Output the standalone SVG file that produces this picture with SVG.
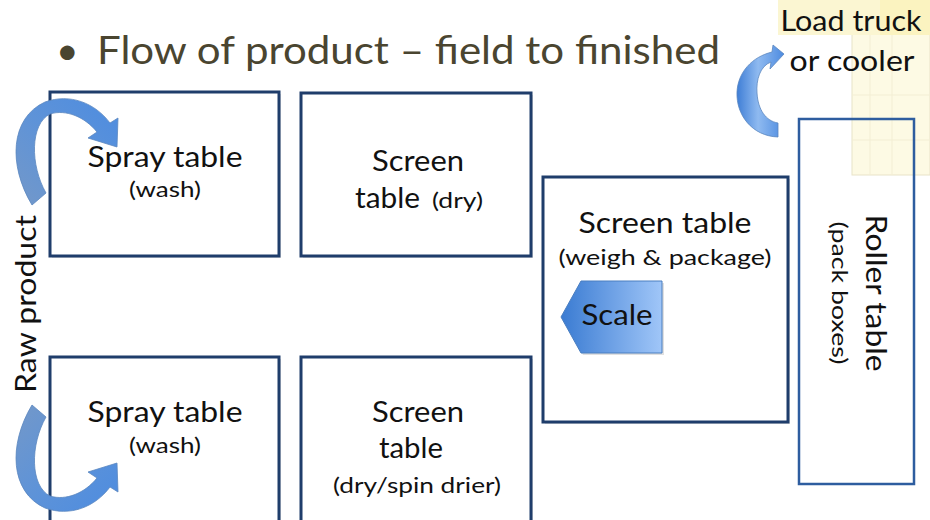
<svg xmlns="http://www.w3.org/2000/svg" width="930" height="520" viewBox="0 0 930 520">
<defs>
<style>
.box{fill:#ffffff;stroke:#1f3d6b;stroke-width:3}
.shadow{fill:#000;opacity:0.12}
.t{font-family:Lato,"Open Sans","Liberation Sans",sans-serif;fill:#111111}
.big{font-size:28px}
.small{font-size:21px}
.title{font-family:Lato,"Open Sans","Liberation Sans",sans-serif;font-weight:400;font-size:39px;fill:#4a4530}
.arrow{stroke:#5b86bf;stroke-width:0.8}
</style>
<linearGradient id="gArrow" x1="0" y1="1" x2="1" y2="0">
<stop offset="0" stop-color="#7398c9"/>
<stop offset="0.5" stop-color="#5e93d8"/>
<stop offset="1" stop-color="#4d8ce0"/>
</linearGradient>
<linearGradient id="gRight" x1="0" y1="0" x2="1" y2="0">
<stop offset="0" stop-color="#3f7ed6"/>
<stop offset="0.45" stop-color="#8fbaf0"/>
<stop offset="1" stop-color="#4d8be0"/>
</linearGradient>
<linearGradient id="gScale" x1="0" y1="0" x2="1" y2="0">
<stop offset="0" stop-color="#3a7bd2"/>
<stop offset="1" stop-color="#a0c6f8"/>
</linearGradient>
</defs>
<rect width="930" height="520" fill="#ffffff"/>
<g id="background-image">
<rect x="852" y="0" width="78" height="175" fill="#fdfae4" stroke="#e8e3c8" stroke-width="1"/>
<rect x="778" y="0" width="152" height="35" fill="#fbf6d2"/>
<rect x="880" y="0" width="50" height="35" fill="#fbf1b4" opacity="0.6"/>
<g stroke="#f3eed4" stroke-width="1" fill="none">
<line x1="870" y1="35" x2="870" y2="175"/>
<line x1="892" y1="35" x2="892" y2="175"/>
<line x1="852" y1="95" x2="930" y2="95"/>
<line x1="852" y1="140" x2="930" y2="140"/>
</g>
</g>
<text class="title" x="56" y="64">•</text>
<text class="title" x="97" y="64" textLength="623" lengthAdjust="spacingAndGlyphs">Flow of product – field to finished</text>
<g id="load-truck">
<text class="t big" x="851" y="31" text-anchor="middle" textLength="141" lengthAdjust="spacingAndGlyphs">Load truck</text>
<text class="t big" x="852" y="71" text-anchor="middle" textLength="125" lengthAdjust="spacingAndGlyphs">or cooler</text>
</g>
<g id="spray-table-1">
<rect class="shadow" x="52" y="94" width="229" height="164"/>
<rect class="box" x="50" y="92" width="229" height="164"/>
<text class="t big" x="165" y="167" text-anchor="middle" textLength="155" lengthAdjust="spacingAndGlyphs">Spray table</text>
<text class="t small" x="165" y="197" text-anchor="middle" textLength="72" lengthAdjust="spacingAndGlyphs">(wash)</text>
</g>
<g id="screen-table-dry">
<rect class="shadow" x="303" y="95" width="230" height="163"/>
<rect class="box" x="301" y="93" width="230" height="163"/>
<text class="t big" x="418" y="171" text-anchor="middle" textLength="92" lengthAdjust="spacingAndGlyphs">Screen</text>
<text class="t big" x="355" y="208" textLength="65" lengthAdjust="spacingAndGlyphs">table</text>
<text class="t small" x="432" y="208" textLength="51" lengthAdjust="spacingAndGlyphs">(dry)</text>
</g>
<g id="spray-table-2">
<rect class="shadow" x="52" y="359" width="229" height="170"/>
<rect class="box" x="50" y="357" width="229" height="170"/>
<text class="t big" x="165" y="422" text-anchor="middle" textLength="155" lengthAdjust="spacingAndGlyphs">Spray table</text>
<text class="t small" x="165" y="453" text-anchor="middle" textLength="72" lengthAdjust="spacingAndGlyphs">(wash)</text>
</g>
<g id="screen-table-spin">
<rect class="shadow" x="303" y="359" width="230" height="170"/>
<rect class="box" x="301" y="357" width="230" height="170"/>
<text class="t big" x="418" y="422" text-anchor="middle" textLength="92" lengthAdjust="spacingAndGlyphs">Screen</text>
<text class="t big" x="411" y="458" text-anchor="middle" textLength="64" lengthAdjust="spacingAndGlyphs">table</text>
<text class="t small" x="417" y="493" text-anchor="middle" textLength="168" lengthAdjust="spacingAndGlyphs">(dry/spin drier)</text>
</g>
<g id="screen-table-weigh">
<rect class="shadow" x="545" y="179" width="245" height="245"/>
<rect class="box" x="543" y="177" width="245" height="245"/>
<text class="t big" x="665" y="233" text-anchor="middle" textLength="173" lengthAdjust="spacingAndGlyphs">Screen table</text>
<text class="t small" x="665" y="265" text-anchor="middle" textLength="213" lengthAdjust="spacingAndGlyphs">(weigh &amp; package)</text>
</g>
<g id="scale">
<polygon points="563,319 583,283 664,283 664,355 583,355" fill="#000" opacity="0.12"/>
<polygon points="561,317 581,281 662,281 662,353 581,353" fill="url(#gScale)" stroke="#4a7ec0" stroke-width="1"/>
<text class="t big" x="617" y="325" text-anchor="middle" textLength="71" lengthAdjust="spacingAndGlyphs">Scale</text>
</g>
<g id="roller-table">
<rect x="799" y="119" width="115" height="365" fill="none" stroke="#2e5d9f" stroke-width="2.5"/>
<text class="t big" transform="translate(866,293) rotate(90)" text-anchor="middle" textLength="157" lengthAdjust="spacingAndGlyphs">Roller table</text>
<text class="t small" transform="translate(832,293) rotate(90)" text-anchor="middle" textLength="143" lengthAdjust="spacingAndGlyphs">(pack boxes)</text>
</g>
<g id="raw-product">
<text class="t big" transform="translate(36,304) rotate(-90)" text-anchor="middle" font-size="29" textLength="178" lengthAdjust="spacingAndGlyphs">Raw product</text>
</g>
<g id="connectors">
<path class="arrow" fill="url(#gArrow)" d="M32,205 C8,165 10,118 45,102 C70,93 95,103 110,123 L118,118 L117,147 L88,138 L97,132 C85,117 66,109 50,114 C30,124 30,165 46,193 Z"/>
<path class="arrow" fill="url(#gArrow)" transform="translate(0,610) scale(1,-1)" d="M32,205 C8,165 10,118 45,102 C70,93 95,103 110,123 L118,118 L117,147 L88,138 L97,132 C85,117 66,109 50,114 C30,124 30,165 46,193 Z"/>
<path class="arrow" fill="url(#gRight)" d="M778,137 C752,136 736,115 737,92 C738,72 752,57 772,52 L773,45 L784,54 L770,69 L771,62 C760,66 756,80 757,93 C758,110 766,121 778,123 Z"/>
</g>
</svg>
